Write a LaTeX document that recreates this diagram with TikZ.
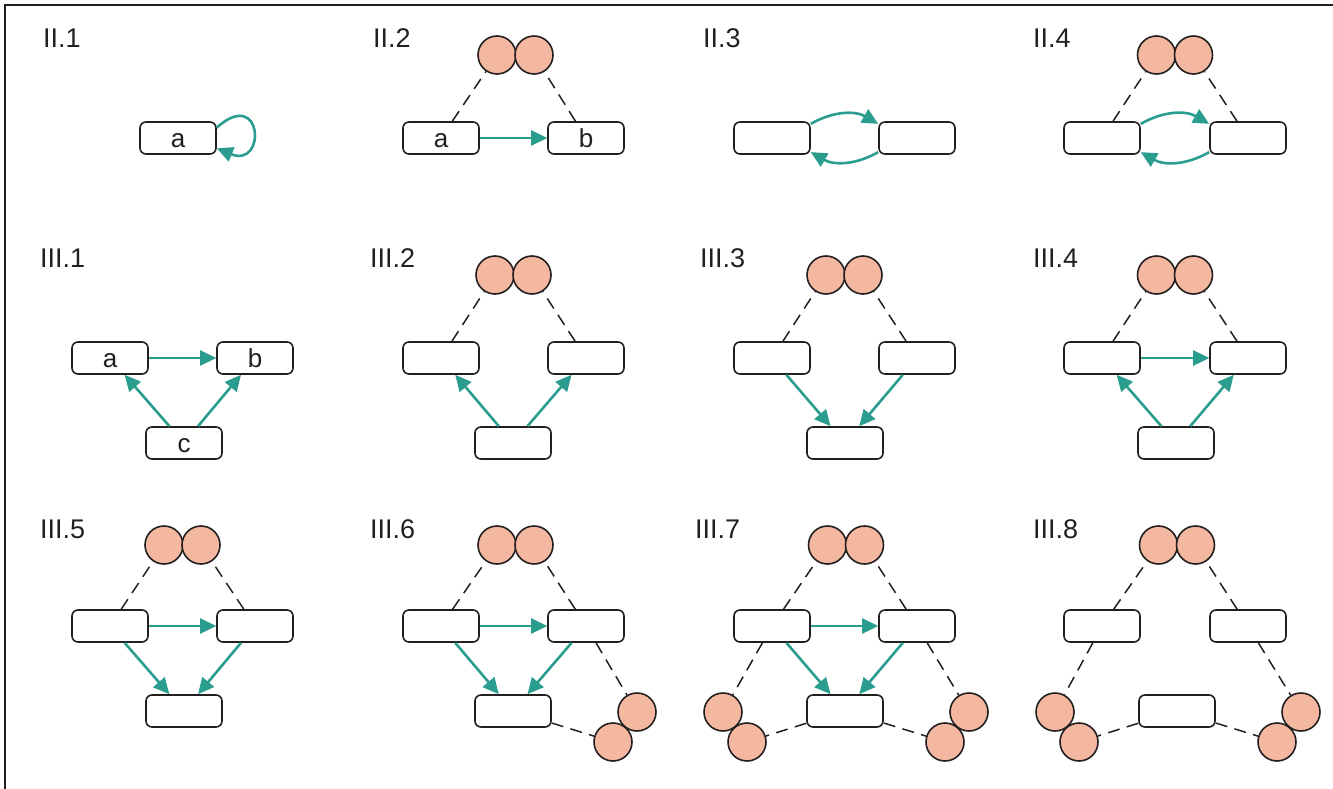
\documentclass[tikz,border=0pt]{standalone}
\usepackage{fontspec}
\setmainfont{Liberation Sans}
\usetikzlibrary{arrows.meta}
\definecolor{dk}{HTML}{231F20}
\definecolor{tl}{HTML}{2A9D8F}
\definecolor{sal}{HTML}{F4B8A0}
\newcommand\TopPair[3]{%
  \node[circ] (#1L) at (#2-18.5,#3) {};
  \node[circ] (#1R) at (#2+18.5,#3) {};}
\newcommand\LeftPair[2]{%
  \node[circ] (#1LU) at (#2-122,-712) {};
  \node[circ] (#1LD) at (#2-98,-742) {};}
\newcommand\RightPair[2]{%
  \node[circ] (#1RU) at (#2+124,-712) {};
  \node[circ] (#1RD) at (#2+100,-742) {};}
\begin{document}
\begin{tikzpicture}[x=1pt,y=1pt,
  box/.style={draw=dk, line width=1.6pt, rounded corners=6pt, fill=white,
    minimum width=76pt, minimum height=32pt, inner sep=0pt,
    text height=18pt, text depth=0pt,
    font=\fontsize{26}{28}\selectfont, text=dk},
  circ/.style={circle, draw=dk, line width=1.6pt, fill=sal, minimum size=38pt, inner sep=0pt},
  arr/.style={draw=tl, line width=2.6pt, -{Triangle[length=16pt,width=15pt]}},
  dline/.style={draw=dk, line width=1.5pt, dash pattern=on 12pt off 7.5pt},
  lbl/.style={anchor=base west, inner sep=0pt, font=\fontsize{27}{30}\selectfont, text=dk}]
\useasboundingbox (0,0) rectangle (1333,-789);
\draw[dk, line width=1.5pt] (5,-789) -- (5,-5) -- (1333,-5);

% ---------------- Row 1 ----------------
\node[lbl] (l21) at (43,-48) {II.1};
\node[lbl] (l22) at (373,-48) {II.2};
\node[lbl] (l23) at (703,-48) {II.3};
\node[lbl] (l24) at (1033,-48) {II.4};

% II.1
\node[box] (a1) at (178,-138) {a};
\draw[arr] (a1.15) .. controls +(42:62) and +(-22:54) .. (a1.-15);

% II.2
\TopPair{p2}{515.5}{-55}
\node[box] (a2) at (441,-138) {a};
\node[box] (b2) at (586,-138) {b};
\draw[dline] (a2) -- (p2L);
\draw[dline] (b2) -- (p2R);
\draw[arr] (a2) -- (b2);

% II.3
\node[box] (a3) at (772,-138) {};
\node[box] (b3) at (917,-138) {};
\draw[arr] (a3.20) to[bend left=30] (b3.160);
\draw[arr] (b3.-160) to[bend left=30] (a3.-20);

% II.4
\TopPair{p4}{1175}{-55}
\node[box] (a4) at (1102,-138) {};
\node[box] (b4) at (1248,-138) {};
\draw[dline] (a4) -- (p4L);
\draw[dline] (b4) -- (p4R);
\draw[arr] (a4.20) to[bend left=30] (b4.160);
\draw[arr] (b4.-160) to[bend left=30] (a4.-20);

% ---------------- Row 2 ----------------
\node[lbl] (l31) at (40,-267) {III.1};
\node[lbl] (l32) at (370,-267) {III.2};
\node[lbl] (l33) at (700,-267) {III.3};
\node[lbl] (l34) at (1033,-267) {III.4};

% III.1
\node[box] (a5) at (110,-358) {a};
\node[box] (b5) at (255,-358) {b};
\node[box] (c5) at (184,-443) {c};
\draw[arr] (a5) -- (b5);
\draw[arr] (c5) -- (a5);
\draw[arr] (c5) -- (b5);

% III.2
\TopPair{p6}{513.5}{-275}
\node[box] (a6) at (441,-358) {};
\node[box] (b6) at (586,-358) {};
\node[box] (c6) at (513,-443) {};
\draw[dline] (a6) -- (p6L);
\draw[dline] (b6) -- (p6R);
\draw[arr] (c6) -- (a6);
\draw[arr] (c6) -- (b6);

% III.3
\TopPair{p7}{844.5}{-275}
\node[box] (a7) at (772,-358) {};
\node[box] (b7) at (917,-358) {};
\node[box] (c7) at (845,-443) {};
\draw[dline] (a7) -- (p7L);
\draw[dline] (b7) -- (p7R);
\draw[arr] (a7) -- (c7);
\draw[arr] (b7) -- (c7);

% III.4
\TopPair{p8}{1175}{-275}
\node[box] (a8) at (1102,-358) {};
\node[box] (b8) at (1248,-358) {};
\node[box] (c8) at (1176,-443) {};
\draw[dline] (a8) -- (p8L);
\draw[dline] (b8) -- (p8R);
\draw[arr] (a8) -- (b8);
\draw[arr] (c8) -- (a8);
\draw[arr] (c8) -- (b8);

% ---------------- Row 3 ----------------
\node[lbl] (l35) at (40,-538) {III.5};
\node[lbl] (l36) at (370,-538) {III.6};
\node[lbl] (l37) at (695,-538) {III.7};
\node[lbl] (l38) at (1033,-538) {III.8};

% III.5
\TopPair{p9}{182.5}{-545}
\node[box] (a9) at (110,-626) {};
\node[box] (b9) at (255,-626) {};
\node[box] (c9) at (184,-711) {};
\draw[dline] (a9) -- (p9L);
\draw[dline] (b9) -- (p9R);
\draw[arr] (a9) -- (b9);
\draw[arr] (a9) -- (c9);
\draw[arr] (b9) -- (c9);

% III.6
\TopPair{p10}{515.5}{-545}
\node[box] (a10) at (441,-626) {};
\node[box] (b10) at (586,-626) {};
\node[box] (c10) at (513,-711) {};
\RightPair{q10}{513}
\draw[dline] (a10) -- (p10L);
\draw[dline] (b10) -- (p10R);
\draw[dline] (b10) -- (q10RU);
\draw[dline] (c10) -- (q10RD);
\draw[arr] (a10) -- (b10);
\draw[arr] (a10) -- (c10);
\draw[arr] (b10) -- (c10);

% III.7
\TopPair{p11}{846}{-545}
\node[box] (a11) at (772,-626) {};
\node[box] (b11) at (917,-626) {};
\node[box] (c11) at (845,-711) {};
\LeftPair{q11}{845}
\RightPair{q11}{845}
\draw[dline] (a11) -- (p11L);
\draw[dline] (b11) -- (p11R);
\draw[dline] (a11) -- (q11LU);
\draw[dline] (c11) -- (q11LD);
\draw[dline] (b11) -- (q11RU);
\draw[dline] (c11) -- (q11RD);
\draw[arr] (a11) -- (b11);
\draw[arr] (a11) -- (c11);
\draw[arr] (b11) -- (c11);

% III.8
\TopPair{p12}{1177}{-545}
\node[box] (a12) at (1102,-626) {};
\node[box] (b12) at (1248,-626) {};
\node[box] (c12) at (1177,-711) {};
\LeftPair{q12}{1177}
\RightPair{q12}{1177}
\draw[dline] (a12) -- (p12L);
\draw[dline] (b12) -- (p12R);
\draw[dline] (a12) -- (q12LU);
\draw[dline] (c12) -- (q12LD);
\draw[dline] (b12) -- (q12RU);
\draw[dline] (c12) -- (q12RD);
\end{tikzpicture}
\end{document}
